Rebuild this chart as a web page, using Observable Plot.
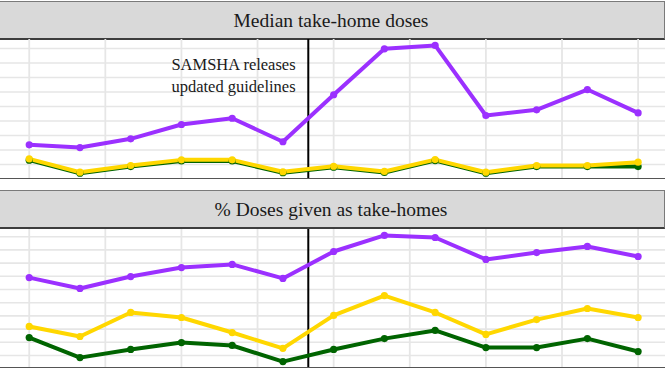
<!DOCTYPE html>
<html>
<head>
<meta charset="utf-8">
<script src="https://cdn.jsdelivr.net/npm/d3@7"></script>
<script src="https://cdn.jsdelivr.net/npm/@observablehq/plot@0.6"></script>
<style>
  html, body { margin: 0; padding: 0; background: #fff; }
  body { width: 667px; height: 375px; position: relative; overflow: hidden; font-family: "Liberation Serif", "Times New Roman", Times, "DejaVu Serif", "Noto Serif", serif; }
  .strip { position: absolute; left: -2px; width: 667px; background: #d9d9d9; border-top: 1px solid #7a7a7a; border-bottom: 2px solid #3d3d3d; border-right: 1px solid #7a7a7a; box-sizing: border-box; color: #1a1a1a; font-size: 19.5px; text-align: center; font-family: "Liberation Serif", "Times New Roman", Times, "DejaVu Serif", serif; }
  .panel { position: absolute; left: 0; }
</style>
</head>
<body>
<div class="strip" id="strip1" style="top:1px;height:39px;line-height:37px;">Median take-home doses</div>
<div class="panel" id="p1" style="top:39px;"></div>
<div class="strip" id="strip2" style="top:190px;height:39px;line-height:37px;">% Doses given as take-homes</div>
<div class="panel" id="p2" style="top:229px;"></div>
<script>
// ---- data ----
const periods = [0, 1, 2, 3, 4, 5, 6, 7, 8, 9, 10, 11, 12];
const seriesNames = ["Group C", "Group B", "Group A"]; // drawn in this order
const seriesColors = ["#006400", "#FFD700", "#9B30FF"];

// Median take-home doses
const medianA = [2.36, 2.17, 2.77, 3.76, 4.19, 2.57, 5.81, 8.98, 9.21, 4.38, 4.77, 6.17, 4.56];
const medianB = [1.39, 0.47, 0.93, 1.32, 1.32, 0.50, 0.88, 0.52, 1.34, 0.47, 0.93, 0.93, 1.16];
const medianC = [1.30, 0.40, 0.86, 1.24, 1.24, 0.43, 0.81, 0.45, 1.27, 0.40, 0.86, 0.86, 0.86];

// % doses given as take-homes
const pctA = [39.5, 35.4, 39.9, 43.3, 44.5, 39.2, 49.4, 55.5, 54.7, 46.4, 49.0, 51.3, 47.5];
const pctB = [21.0, 17.2, 26.3, 24.4, 18.7, 12.7, 25.2, 32.7, 26.3, 18.0, 23.6, 27.8, 24.4];
const pctC = [16.8, 9.2, 12.3, 14.9, 13.8, 7.7, 12.3, 16.4, 19.5, 13.0, 13.0, 16.4, 11.5];

const eventPeriod = 5.5;
const eventLabel = "SAMSHA releases\nupdated guidelines";

const xGrid = [0, 1.5, 3, 4.5, 6, 7.5, 9, 10.5, 12];
const yGrid1 = [0, 1, 2, 3, 4, 5, 6, 7, 8, 9];
const yGrid2 = [10, 15, 20, 25, 30, 35, 40, 45, 50, 55];

function rows(c, b, a) {
  const out = [];
  [c, b, a].forEach((vals, si) => {
    periods.forEach((p, i) => out.push({period: p, series: seriesNames[si], value: vals[i]}));
  });
  return out;
}

const xDomain = [-0.566, 12.54];
const serif = "'Liberation Serif', 'Times New Roman', Times, 'DejaVu Serif', serif";

function panel(data, yDomain, yGrid, height, extra) {
  return Plot.plot({
    width: 665,
    height: height,
    marginLeft: 0, marginRight: 0, marginTop: 0, marginBottom: 0,
    x: {domain: xDomain, axis: null},
    y: {domain: yDomain, axis: null},
    color: {domain: seriesNames, range: seriesColors},
    style: {background: "transparent", fontFamily: serif},
    marks: [
      Plot.ruleY(yGrid, {stroke: "#e6e6e6", strokeWidth: 1.6}),
      Plot.ruleX(xGrid, {stroke: "#e6e6e6", strokeWidth: 1.8}),
      Plot.ruleX([eventPeriod], {stroke: "#000", strokeWidth: 2}),
      Plot.line(data, {x: "period", y: "value", z: "series", stroke: "series", strokeWidth: 4, strokeLinejoin: "round", strokeLinecap: "round"}),
      Plot.dot(data, {x: "period", y: "value", fill: "series", r: 3.6}),
      ...extra,
      Plot.ruleY([yDomain[0]], {stroke: "#555", strokeWidth: 3})
    ]
  });
}

const p1 = panel(rows(medianC, medianB, medianA), [-0.034, 9.62], yGrid1, 140, [
  Plot.text([eventLabel], {x: 5.25, y: 7.245, text: d => d, textAnchor: "end", lineAnchor: "middle", fontSize: 16.5, lineHeight: 1.3, fill: "#1a1a1a", fontFamily: serif})
]);
document.getElementById("p1").appendChild(p1);

const p2 = panel(rows(pctC, pctB, pctA), [5.076, 57.73], yGrid2, 139, []);
document.getElementById("p2").appendChild(p2);
</script>
</body>
</html>
